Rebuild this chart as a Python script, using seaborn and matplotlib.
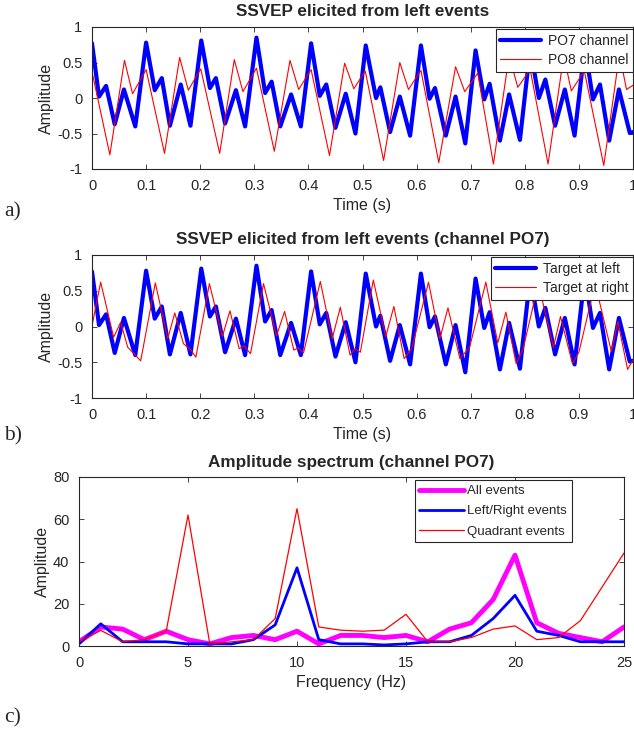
import numpy as np
import pandas as pd
import matplotlib
matplotlib.use("Agg")
import matplotlib.pyplot as plt
import seaborn as sns

# ---- data (extrema of each trace) ----
# blue trace: PO7 channel / target at left (same curve in a and b)
po7_t = [0, 0.013, 0.026, 0.042, 0.059, 0.080,
         0.100, 0.116, 0.129, 0.144, 0.164, 0.182,
         0.202, 0.218, 0.229, 0.246, 0.266, 0.283,
         0.304, 0.320, 0.332, 0.348, 0.368, 0.386,
         0.405, 0.421, 0.433, 0.450, 0.469, 0.487,
         0.506, 0.525, 0.533, 0.551, 0.569, 0.588,
         0.608, 0.624, 0.634, 0.654, 0.672, 0.690,
         0.709, 0.725, 0.735, 0.754, 0.771, 0.791,
         0.810, 0.826, 0.838, 0.856, 0.874, 0.892,
         0.911, 0.926, 0.939, 0.956, 0.974, 0.994, 1.0]
po7_v = [0.77, 0.02, 0.17, -0.37, 0.12, -0.40,
         0.78, 0.11, 0.28, -0.39, 0.19, -0.39,
         0.81, 0.14, 0.28, -0.36, 0.11, -0.40,
         0.85, 0.07, 0.23, -0.40, 0.05, -0.40,
         0.77, 0.03, 0.19, -0.42, 0.06, -0.50,
         0.74, 0.00, 0.15, -0.48, 0.02, -0.53,
         0.74, -0.01, 0.14, -0.53, 0.02, -0.64,
         0.67, -0.02, 0.20, -0.60, 0.05, -0.59,
         0.70, 0.00, 0.26, -0.39, 0.12, -0.53,
         0.72, -0.02, 0.19, -0.60, 0.12, -0.49, -0.48]

# red trace of panel a: PO8 channel
po8_t = [0, 0.033, 0.060, 0.075, 0.100, 0.134, 0.162, 0.178,
         0.201, 0.236, 0.263, 0.279, 0.304, 0.337, 0.366, 0.382,
         0.405, 0.439, 0.467, 0.484, 0.505, 0.539, 0.569, 0.585,
         0.608, 0.641, 0.672, 0.689, 0.713, 0.742, 0.771, 0.787,
         0.810, 0.843, 0.872, 0.886, 0.910, 0.946, 0.975, 0.988, 1.0]
po8_v = [0.37, -0.80, 0.53, 0.06, 0.40, -0.78, 0.57, 0.11,
         0.41, -0.78, 0.54, 0.09, 0.42, -0.75, 0.53, 0.12,
         0.40, -0.81, 0.49, 0.13, 0.38, -0.88, 0.50, 0.12,
         0.39, -0.91, 0.44, 0.09, 0.35, -0.93, 0.60, 0.15,
         0.40, -0.93, 0.60, 0.10, 0.38, -0.95, 0.62, 0.12, 0.18]

# red trace of panel b: target at right
right_t = [0, 0.016, 0.040, 0.053, 0.066, 0.075, 0.090,
           0.117, 0.140, 0.153, 0.169, 0.183, 0.192,
           0.217, 0.241, 0.255, 0.272, 0.281, 0.293,
           0.317, 0.341, 0.356, 0.373, 0.381, 0.391,
           0.422, 0.444, 0.459, 0.477, 0.486, 0.496,
           0.520, 0.543, 0.558, 0.577, 0.591,
           0.622, 0.643, 0.658, 0.680, 0.698,
           0.728, 0.750, 0.765, 0.784, 0.797,
           0.825, 0.853, 0.866, 0.888, 0.900,
           0.930, 0.960, 0.972, 0.990, 1.0]
right_v = [0.01, 0.62, -0.15, 0.06, -0.29, -0.36, -0.48,
           0.61, -0.17, 0.19, -0.24, -0.33, -0.43,
           0.60, -0.14, 0.22, -0.31, -0.27, -0.38,
           0.60, -0.13, 0.21, -0.33, -0.30, -0.37,
           0.63, -0.17, 0.27, -0.40, -0.31, -0.36,
           0.65, -0.14, 0.28, -0.45, -0.31,
           0.62, -0.17, 0.26, -0.45, -0.29,
           0.62, -0.23, 0.20, -0.52, -0.31,
           0.60, -0.29, 0.14, -0.52, -0.36,
           0.60, -0.35, 0.07, -0.60, -0.47]

# panel c: amplitude spectrum, 0..25 Hz
freqs = list(range(26))
all_events = [2, 9, 8, 3, 7, 3, 1, 4, 5, 3, 7, 1, 5, 5, 4, 5, 2, 8, 11, 22, 43, 11, 6, 4, 2, 9]
lr_events = [1, 10.5, 2, 2, 2, 1, 1, 1, 3, 10, 37, 3, 1, 1, 0.5, 1, 2, 2, 5, 13, 24, 7, 5, 2, 2, 2]
quad_events = [2, 7.4, 2, 3, 7, 62, 1, 2, 3, 13, 65, 9, 7.5, 7, 7.5, 15, 2, 2, 4, 8, 9.5, 3, 4, 12, 28, 44]

sns.set_style("white")
plt.rcParams['font.family'] = ['Liberation Sans', 'DejaVu Sans']
axis_col = '#262626'

W, H = 634, 734
fig = plt.figure(figsize=(W / 100, H / 100), dpi=100)


def px_axes(left, top, right, bottom):
    return fig.add_axes([left / W, 1 - bottom / H, (right - left) / W, (bottom - top) / H])


def style(ax):
    for s in ax.spines.values():
        s.set_color(axis_col)
        s.set_linewidth(0.8)
    ax.tick_params(direction='in', length=3.5, width=0.6, colors=axis_col,
                   labelsize=10.5, top=True, right=True, bottom=True, left=True,
                   labelcolor=axis_col, pad=7)


def make_legend(ax, anchor, fs, hl, htp, spacing):
    leg = ax.legend(loc='upper right', bbox_to_anchor=anchor, fontsize=fs,
                    fancybox=False, framealpha=1, edgecolor=axis_col,
                    handlelength=hl, borderaxespad=0, borderpad=0.35,
                    labelspacing=spacing, handletextpad=htp)
    leg.get_frame().set_linewidth(0.8)


def time_panel(ax, t1, v1, t2, v2, lab1, lab2, title, anchor):
    d1 = pd.DataFrame({'t': t1, 'v': v1})
    d2 = pd.DataFrame({'t': t2, 'v': v2})
    sns.lineplot(data=d1, x='t', y='v', ax=ax, color='#0000ff', linewidth=3.0, label=lab1)
    sns.lineplot(data=d2, x='t', y='v', ax=ax, color='#ff0000', linewidth=0.8, label=lab2)
    ax.set_xlim(0, 1)
    ax.set_ylim(-1, 1)
    xt = np.round(np.arange(0, 1.01, 0.1), 1)
    ax.set_xticks(xt)
    ax.set_xticklabels(['%g' % v for v in xt])
    yt = [-1, -0.5, 0, 0.5, 1]
    ax.set_yticks(yt)
    ax.set_yticklabels(['%g' % v for v in yt])
    ax.set_xlabel('Time (s)', fontsize=11.5, color=axis_col, labelpad=4)
    ax.set_ylabel('Amplitude', fontsize=11.5, color=axis_col, labelpad=2)
    ax.set_title(title, fontsize=12.3, fontweight='bold', pad=8)
    style(ax)
    make_legend(ax, anchor, 10, 2.9, 0.5, 0.35)


ax_a = px_axes(92, 27, 633, 169)
time_panel(ax_a, po7_t, po7_v, po8_t, po8_v, 'PO7 channel', 'PO8 channel',
           'SSVEP elicited from left events', (1.0, 0.985))

ax_b = px_axes(92, 255, 633, 398)
time_panel(ax_b, po7_t, po7_v, right_t, right_v, 'Target at left', 'Target at right',
           'SSVEP elicited from left events (channel PO7)', (1.0, 0.985))

ax_c = px_axes(79, 477, 624, 646)
spec = pd.DataFrame({'f': freqs, 'all': all_events, 'lr': lr_events, 'quad': quad_events})
sns.lineplot(data=spec, x='f', y='all', ax=ax_c, color='#ff00ff', linewidth=3.5, label='All events')
sns.lineplot(data=spec, x='f', y='lr', ax=ax_c, color='#0000ff', linewidth=2.0, label='Left/Right events')
sns.lineplot(data=spec, x='f', y='quad', ax=ax_c, color='#ff0000', linewidth=0.9, label='Quadrant events')
ax_c.set_xlim(0, 25)
ax_c.set_ylim(0, 80)
ax_c.set_xticks(range(0, 26, 5))
ax_c.set_yticks(range(0, 81, 20))
ax_c.set_xlabel('Frequency (Hz)', fontsize=11.5, color=axis_col, labelpad=4)
ax_c.set_ylabel('Amplitude', fontsize=11.5, color=axis_col, labelpad=2)
ax_c.set_title('Amplitude spectrum (channel PO7)', fontsize=12.3, fontweight='bold', pad=7)
style(ax_c)
make_legend(ax_c, (0.904, 0.98), 9.5, 3.4, 0.25, 0.6)

for lab, y in [('a)', 212), ('b)', 436), ('c)', 718)]:
    fig.text(4 / W, 1 - y / H, lab, fontsize=15.5, family='Liberation Serif', va='center')

fig.savefig('out.png', dpi=100)
